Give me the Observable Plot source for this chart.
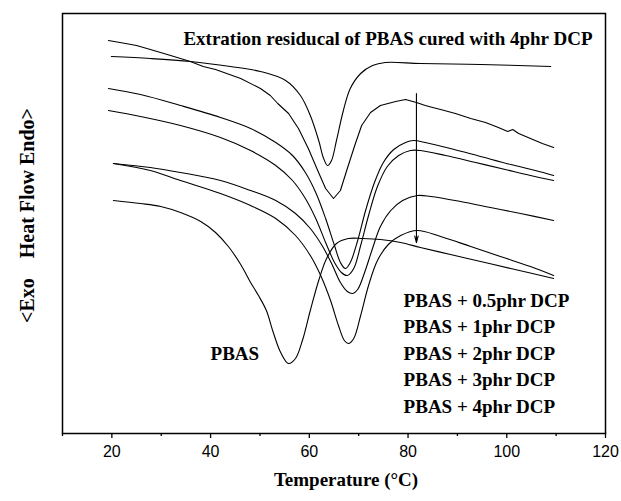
<!DOCTYPE html>
<html><head><meta charset="utf-8">
<script src="https://cdn.jsdelivr.net/npm/d3@7"></script>
<script src="https://cdn.jsdelivr.net/npm/@observablehq/plot@0.6"></script>
<style>body{margin:0;background:#fff}</style>
</head><body><div id="chart"></div>
<script>
// Temperature (°C) and heat flow (arbitrary units, endo up)
const residualT  = [19.9,27.8,35.9,44.0,50.1,55.2,58.2,60.2,61.9,62.9,63.7,64.5,65.5,66.9,68.3,70.4,72.8,75.4,82.5,94.7,108.9];
const residualHF = [377,375,372,367,362,353,338,318,293,275,268,273,293,323,345,360,368,371,370,369,367];

const dcp05T  = [19.3,22.8,25.0,27.8,31.9,35.9,38.5,41.0,46.1,50.1,52.1,53.6,55.8,57.8,59.8,61.7,63.3,64.9,66.3,67.7,69.2,70.6,72.4,74.4,77.5,79.5,81.7,83.5,85.0,86.6,89.6,92.7,95.7,98.3,100.2,101.2,102.4,104.8,107.2,109.5];
const dcp05HF = [393,390,388,384,378,372,367,364,355,345,338,330,320,305,285,263,245,235,243,265,288,308,321,328,332,334,331,328,326,324,320,315,311,306,302,304,300,295,290,286];

const dcp1T  = [19.3,25.8,33.9,42.0,48.1,53.2,56.6,59.2,61.3,63.3,65.1,66.3,67.3,68.3,69.8,71.4,73.2,75.0,77.1,79.5,81.1,83.5,88.6,94.7,100.8,105.8,109.5];
const dcp1HF = [345,339,328,316,305,291,278,261,241,215,188,171,165,171,193,223,251,271,284,291,293,291,285,277,269,263,258];

const dcp2T  = [19.3,25.8,33.9,42.0,48.1,53.2,56.6,59.2,61.3,63.3,65.1,66.5,67.7,69.0,70.4,72.0,73.8,75.8,78.1,80.5,82.5,87.6,93.7,99.7,104.8,109.5];
const dcp2HF = [323,317,308,296,283,268,253,235,215,191,171,161,158,165,188,218,247,267,278,283,283,278,271,264,258,253];

const dcp3T  = [20.3,27.8,33.9,42.0,48.1,53.2,57.2,60.2,62.7,64.7,66.3,67.7,68.8,69.8,71.2,72.8,74.4,76.5,78.9,81.9,84.6,90.6,96.7,102.8,109.5];
const dcp3HF = [270,266,261,253,243,233,220,205,187,168,151,142,140,144,161,185,207,223,233,238,237,232,226,220,213];

const dcp4T  = [20.3,27.8,33.9,42.0,48.1,53.2,57.2,60.2,62.3,64.3,65.9,67.1,67.9,69.0,70.4,72.0,73.8,76.0,78.5,81.9,86.6,92.7,98.7,104.8,109.5];
const dcp4HF = [270,263,253,240,228,215,198,178,158,133,108,93,90,95,118,148,173,189,198,203,197,187,177,167,158];

const pbasT  = [20.3,25.8,29.9,33.9,38.0,41.0,43.6,46.1,48.1,49.7,51.3,52.7,54.2,55.8,57.2,58.6,60.2,61.9,63.5,65.5,67.9,70.8,74.4,78.5,82.5,88.6,94.7,100.8,109.5];
const pbasHF = [233,230,227,221,212,201,187,169,151,138,123,101,81,70,75,93,123,153,175,190,195,195,194,191,186,179,172,165,155];

const arrowT = [81.7];
const arrowFrom = [340];
const arrowTo = [191];

const xTicks = [20, 40, 60, 80, 100, 120];
const xMinorTicks = [10, 30, 50, 70, 90, 110];

const titleText = "Extration residucal of PBAS cured with 4phr DCP";
const pbasText = "PBAS";
const legendLabels = ["PBAS + 0.5phr DCP", "PBAS + 1phr DCP", "PBAS + 2phr DCP", "PBAS + 3phr DCP", "PBAS + 4phr DCP"];
const xLabel = "Temperature (\u00B0C)";
const yLabel = "<Exo\u00A0\u00A0\u00A0\u00A0Heat Flow Endo>";

const series = [
  {T: residualT, HF: residualHF, curve: "catmull-rom"},
  {T: dcp05T, HF: dcp05HF, curve: "linear"},
  {T: dcp1T, HF: dcp1HF, curve: "catmull-rom"},
  {T: dcp2T, HF: dcp2HF, curve: "catmull-rom"},
  {T: dcp3T, HF: dcp3HF, curve: "catmull-rom"},
  {T: dcp4T, HF: dcp4HF, curve: "catmull-rom"},
  {T: pbasT, HF: pbasHF, curve: "catmull-rom"}
];

const serif = "'Liberation Serif','Times New Roman',serif";
const sans = "'Liberation Sans',Arial,sans-serif";

const lines = series.map(s => Plot.line(s.T.map((t, i) => ({T: t, HF: s.HF[i]})),
  {x: "T", y: "HF", curve: s.curve, stroke: "black", strokeWidth: 1.1}));

const chart = Plot.plot({
  width: 621,
  height: 501,
  marginLeft: 62,
  marginRight: 16,
  marginTop: 13,
  marginBottom: 68,
  style: {background: "#fff", color: "black", fontFamily: sans},
  x: {domain: [10, 120], label: null},
  y: {domain: [0, 420], axis: null},
  marks: [
    Plot.axisX({ticks: xMinorTicks, tickSize: 3, tickFormat: () => "", label: null, strokeWidth: 1.3}),
    Plot.axisX({ticks: xTicks, tickSize: 5, tickPadding: 7, fontSize: 16, fontFamily: sans, label: null, strokeWidth: 1.3}),
    Plot.frame({stroke: "black", strokeWidth: 1.5}),
    ...lines,
    Plot.arrow(arrowT.map((t, i) => ({T: t, a: arrowFrom[i], b: arrowTo[i]})),
      {x1: "T", x2: "T", y1: "a", y2: "b", stroke: "black", strokeWidth: 1.1, headLength: 9, headAngle: 30}),
    Plot.text([titleText], {x: () => 34.5, y: () => 395, textAnchor: "start", fontSize: 19, fontWeight: "bold", fontFamily: serif, fill: "black"}),
    Plot.text([pbasText], {x: () => 40.0, y: () => 80, textAnchor: "start", fontSize: 19, fontWeight: "bold", fontFamily: serif, fill: "black"}),
    Plot.text(legendLabels, {x: () => 79.1, y: (d, i) => 133 - 26.5 * i, textAnchor: "start", fontSize: 19, fontWeight: "bold", fontFamily: serif, fill: "black"}),
    Plot.text([xLabel], {frameAnchor: "bottom", dy: 52, dx: 12, fontSize: 19, fontWeight: "bold", fontFamily: serif, fill: "black"}),
    Plot.text([yLabel], {frameAnchor: "left", textAnchor: "middle", dx: -35, dy: -8, rotate: -90, fontSize: 20, fontWeight: "bold", fontFamily: serif, fill: "black"})
  ]
});
document.getElementById("chart").append(chart);
</script>
</body></html>
